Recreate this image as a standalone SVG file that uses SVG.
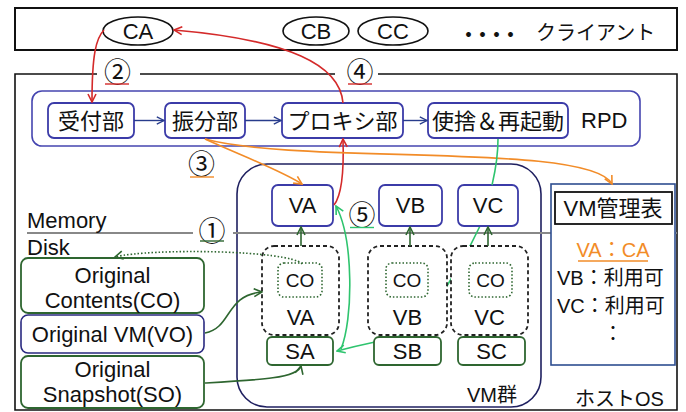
<svg xmlns="http://www.w3.org/2000/svg" width="686" height="412" viewBox="0 0 686 412">
<defs>
<style>
text{font-family:"Liberation Sans","Noto Sans CJK JP",sans-serif;fill:#111}
.t22{font-size:22px}
.t20{font-size:20px}
.t19{font-size:19px}
.c{text-anchor:middle}
.num{font-family:"Noto Sans CJK JP","Liberation Sans",sans-serif;font-size:27px;text-anchor:middle}
.rpdbox{fill:#fff;stroke:#3b3ba8;stroke-width:1.8}
.mem{fill:#fff;stroke:#3b3ba8;stroke-width:1.8}
.snap{fill:#fff;stroke:#2e6630;stroke-width:1.8}
.dash{fill:#fff;stroke:#222;stroke-width:1.8;stroke-dasharray:4 3}
.dot{fill:#fff;stroke:#2e6630;stroke-width:1.6;stroke-dasharray:1.5 2}
.red{fill:none;stroke:#d42a2a;stroke-width:1.6}
.org{fill:none;stroke:#f28c28;stroke-width:1.6}
.grn{fill:none;stroke:#2ec46e;stroke-width:1.6}
.dgr{fill:none;stroke:#2e6630;stroke-width:1.6}
.nav{fill:none;stroke:#283c8c;stroke-width:1.4}
</style>
<marker id="aRed" viewBox="0 0 10 10" refX="9" refY="5" markerWidth="10" markerHeight="10" markerUnits="userSpaceOnUse" orient="auto"><path d="M1,1 L9,5 L1,9" fill="none" stroke="#d42a2a" stroke-width="1.6"/></marker>
<marker id="aOrg" viewBox="0 0 10 10" refX="9" refY="5" markerWidth="10" markerHeight="10" markerUnits="userSpaceOnUse" orient="auto"><path d="M1,1 L9,5 L1,9" fill="none" stroke="#f28c28" stroke-width="1.6"/></marker>
<marker id="aGrn" viewBox="0 0 10 10" refX="9" refY="5" markerWidth="10" markerHeight="10" markerUnits="userSpaceOnUse" orient="auto"><path d="M1,1 L9,5 L1,9" fill="none" stroke="#2ec46e" stroke-width="1.6"/></marker>
<marker id="aDgr" viewBox="0 0 10 10" refX="9" refY="5" markerWidth="10" markerHeight="10" markerUnits="userSpaceOnUse" orient="auto"><path d="M1,1 L9,5 L1,9" fill="none" stroke="#2e6630" stroke-width="1.6"/></marker>
<marker id="aNav" viewBox="0 0 10 10" refX="9" refY="5" markerWidth="9" markerHeight="9" markerUnits="userSpaceOnUse" orient="auto"><path d="M1,1 L9,5 L1,9" fill="none" stroke="#283c8c" stroke-width="1.5"/></marker>
</defs>
<rect width="686" height="412" fill="#fff"/>

<g id="clients">
<rect x="15" y="8" width="662" height="42" fill="#fff" stroke="#111" stroke-width="2"/>
<g id="CA"><ellipse cx="138" cy="31" rx="35" ry="14" fill="#fff" stroke="#111" stroke-width="1.6"/><text class="t22 c" x="138" y="39">CA</text></g>
<g id="CB"><ellipse cx="316" cy="31" rx="33" ry="14" fill="#fff" stroke="#111" stroke-width="1.6"/><text class="t22 c" x="316" y="39">CB</text></g>
<g id="CC"><ellipse cx="393" cy="31" rx="35" ry="14" fill="#fff" stroke="#111" stroke-width="1.6"/><text class="t22 c" x="393" y="39">CC</text></g>
<text x="459" y="42" style="font-size:19px;font-weight:bold;letter-spacing:-5px">・・・・</text>
<text class="t20" x="536" y="40">クライアント</text>
</g>

<g id="hostos">
<path d="M97 74 H15 V410 H677 V74 H378 M335 74 H140" fill="none" stroke="#111" stroke-width="1.6"/>
<text class="t20" x="575" y="406">ホストOS</text>
</g>

<g id="vmgroup">
<rect x="237" y="164" width="304" height="243" rx="30" fill="#fff" stroke="#1f2060" stroke-width="1.6"/>
<text class="t20" x="467" y="402">VM群</text>
</g>

<g id="memdisk">
<path d="M27 233 H193 M233 233 H677" stroke="#888" stroke-width="1.8" fill="none"/>
<text class="t22" x="27" y="228">Memory</text>
<text class="t22" x="27" y="255">Disk</text>
</g>

<g id="vmtable">
<rect x="551" y="184" width="124" height="181" fill="#fff" stroke="#2e4e90" stroke-width="1.6"/>
<rect x="555" y="192" width="117" height="32" fill="#fff" stroke="#111" stroke-width="1.8"/>
<text class="t22 c" x="613" y="216">VM管理表</text>
<text class="t20 c" x="613" y="257" style="fill:#f28c28">VA：CA</text>
<line x1="578" y1="261" x2="648" y2="261" stroke="#f28c28" stroke-width="1.4"/>
<text class="t20" x="557" y="285">VB：利用可</text>
<text class="t20" x="557" y="313">VC：利用可</text>
<text class="t20 c" x="613" y="341">：</text>
</g>

<g id="connectors-under">
<path class="grn" d="M480 226 L470 246 C455 271 445 292 430 312 C418 330 400 339 375 342 Q356 346 337 351" marker-end="url(#aGrn)"/>
</g>

<g id="RPD">
<rect x="32" y="91" width="608" height="55" rx="10" fill="none" stroke="#4545b0" stroke-width="1.6"/>
<text class="t22" x="581" y="128">RPD</text>
</g>
<g id="uketsuke"><rect class="rpdbox" x="48" y="103" width="86" height="35" rx="6"/><text class="t22 c" x="91" y="129">受付部</text></g>
<g id="furiwake"><rect class="rpdbox" x="165" y="103" width="80" height="35" rx="6"/><text class="t22 c" x="205" y="129">振分部</text></g>
<g id="proxy"><rect class="rpdbox" x="282" y="103" width="121" height="35" rx="6"/><text class="t22 c" x="342.5" y="129">プロキシ部</text></g>
<g id="restart"><rect class="rpdbox" x="428" y="103" width="140" height="35" rx="6"/><text class="t22 c" x="498" y="129">使捨＆再起動</text></g>

<g id="VA-mem"><rect class="mem" x="272" y="185" width="61" height="41" rx="6"/><text class="t22 c" x="302.5" y="213">VA</text></g>
<g id="VB-mem"><rect class="mem" x="379" y="185" width="63" height="41" rx="6"/><text class="t22 c" x="410.5" y="213">VB</text></g>
<g id="VC-mem"><rect class="mem" x="458" y="185" width="60" height="41" rx="6"/><text class="t22 c" x="488" y="213">VC</text></g>

<g id="VA-disk"><rect class="dash" x="262" y="246" width="77" height="89" rx="12"/><rect class="dot" x="278" y="263" width="44" height="34" rx="6"/><text class="t19 c" x="300" y="287">CO</text><text class="t22 c" x="300.5" y="325">VA</text></g>
<g id="VB-disk"><rect class="dash" x="368" y="246" width="79" height="89" rx="12"/><rect class="dot" x="386" y="263" width="42" height="34" rx="6"/><text class="t19 c" x="407" y="287">CO</text><text class="t22 c" x="407.5" y="325">VB</text></g>
<g id="VC-disk"><rect class="dash" x="451" y="246" width="77" height="89" rx="12"/><rect class="dot" x="469" y="263" width="43" height="34" rx="6"/><text class="t19 c" x="490.5" y="287">CO</text><text class="t22 c" x="489.5" y="325">VC</text></g>

<g id="SA"><rect class="snap" x="267" y="337" width="66" height="28" rx="5"/><text class="t22 c" x="300" y="359">SA</text></g>
<g id="SB"><rect class="snap" x="374" y="337" width="67" height="28" rx="5"/><text class="t22 c" x="407.5" y="359">SB</text></g>
<g id="SC"><rect class="snap" x="458" y="337" width="67" height="28" rx="5"/><text class="t22 c" x="491.5" y="359">SC</text></g>

<g id="origCO"><rect class="snap" x="21" y="258" width="183" height="55" rx="7"/><text class="t22 c" x="112.5" y="283">Original</text><text class="t22 c" x="112.5" y="308">Contents(CO)</text></g>
<g id="origVO"><rect x="21" y="315" width="183" height="38" rx="7" fill="#fff" stroke="#2a2a80" stroke-width="1.6"/><text class="t22 c" x="112.5" y="342">Original VM(VO)</text></g>
<g id="origSO"><rect class="snap" x="21" y="356" width="183" height="52" rx="7"/><text class="t22 c" x="112.5" y="377">Original</text><text class="t22 c" x="112.5" y="402">Snapshot(SO)</text></g>

<g id="labels">
<text class="num" x="117.5" y="82.3">②</text>
<line x1="105" y1="84" x2="129" y2="84" stroke="#d42a2a" stroke-width="1.4"/>
<text class="num" x="360" y="82.3">④</text>
<line x1="348" y1="84" x2="372" y2="84" stroke="#d42a2a" stroke-width="1.4"/>
<text class="num" x="201.5" y="173.8">③</text>
<line x1="190" y1="177" x2="214" y2="177" stroke="#f28c28" stroke-width="1.4"/>
<text class="num" x="212" y="240.5">①</text>
<line x1="200" y1="241" x2="224" y2="241" stroke="#2e6630" stroke-width="1.4"/>
<text class="num" x="362" y="224.5">⑤</text>
<line x1="350" y1="227.5" x2="374" y2="227.5" stroke="#2ec46e" stroke-width="1.4"/>
</g>

<g id="connectors">
<path class="nav" d="M134 120.5 H164" marker-end="url(#aNav)"/>
<path class="nav" d="M245 120.5 H281" marker-end="url(#aNav)"/>
<path class="nav" d="M403 120.5 H427" marker-end="url(#aNav)"/>
<path class="red" d="M104 30 C96 38 92 55 92 102" marker-end="url(#aRed)"/>
<path class="red" d="M343 103 C340 65 290 40 174 30" marker-end="url(#aRed)"/>
<path class="red" d="M334 205 C342 195 344 170 343 139" marker-end="url(#aRed)"/>
<path class="org" d="M205 139 C240 155 280 170 302 184" marker-end="url(#aOrg)"/>
<path class="org" d="M205 139 C300 165 590 142 612 184" marker-end="url(#aOrg)"/>
<path class="grn" d="M498 139 C498 160 495 172 492 185"/>
<path class="grn" d="M341 349 C353 320 354 240 336 206" marker-end="url(#aGrn)"/>
<path class="dgr" d="M301 246 V227" marker-end="url(#aDgr)"/>
<path class="dgr" d="M410 246 V227" marker-end="url(#aDgr)"/>
<path class="dgr" d="M488 246 V227" marker-end="url(#aDgr)"/>
<path class="dgr" d="M302 264 C290 250 150 248 115 257" stroke-dasharray="1.5 2" marker-end="url(#aDgr)"/>
<path class="dgr" d="M205 333 C232 328 225 295 262 292" marker-end="url(#aDgr)"/>
<path class="dgr" d="M205 383 C260 380 298 378 301 366" marker-end="url(#aDgr)"/>
</g>
</svg>
